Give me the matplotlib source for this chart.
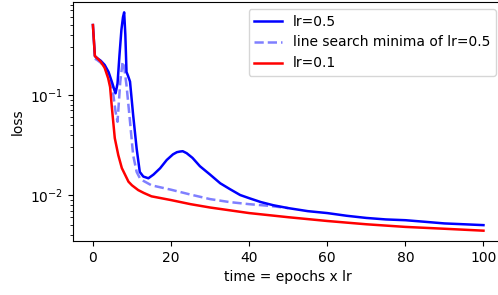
import matplotlib
matplotlib.use("Agg")
import matplotlib.pyplot as plt

# lr=0.5 curve
x_b = [0, 0.5, 1, 2, 3, 4, 5, 5.5, 5.8, 6.3, 6.8, 7.3, 7.7, 8.0, 8.3, 8.6, 9.0, 9.5, 10.3,
       11.2, 12.0, 12.9, 14.2, 15.5, 17.2, 18.9, 20.5, 21.5, 22.3, 23, 24, 25.5, 27.4, 30,
       32.6, 35, 37.7, 40, 43, 46.2, 50, 55, 60, 65, 70, 75, 80, 85, 90, 95, 100]
y_b = [0.5, 0.245, 0.235, 0.22, 0.2, 0.17, 0.13, 0.112, 0.104, 0.13, 0.25, 0.45, 0.6, 0.67,
       0.4, 0.17, 0.155, 0.136, 0.063, 0.029, 0.017, 0.0153, 0.0147, 0.016, 0.0185, 0.0224,
       0.0255, 0.0268, 0.0272, 0.0274, 0.0262, 0.0235, 0.0194, 0.016, 0.0131, 0.0115,
       0.0100, 0.0093, 0.0085, 0.0079, 0.0074, 0.0069, 0.0066, 0.0062, 0.0059, 0.0057,
       0.0056, 0.0054, 0.0052, 0.0051, 0.0050]

# line search minima of lr=0.5
x_d = [0.5, 1, 2, 3, 4, 5, 5.8, 6.3, 7.0, 7.6, 8.0, 8.6, 9.5, 10.3, 11.2, 12.0, 13, 15,
       20, 25, 30, 35, 40, 45, 50]
y_d = [0.23, 0.225, 0.21, 0.19, 0.16, 0.117, 0.068, 0.054, 0.135, 0.215, 0.19, 0.125,
       0.054, 0.025, 0.017, 0.0148, 0.0138, 0.0125, 0.0113, 0.0101, 0.0091, 0.0085, 0.0081,
       0.0078, 0.0074]

# lr=0.1 curve
x_r = [0, 0.5, 1, 2, 3, 3.9, 4.4, 4.8, 5.6, 6.5, 7.4, 9.1, 10, 11.6, 13, 15, 20, 25, 30, 40,
       50, 60, 70, 80, 90, 100]
y_r = [0.5, 0.245, 0.235, 0.215, 0.187, 0.147, 0.12, 0.079, 0.037, 0.025, 0.0186, 0.0136,
       0.0125, 0.0112, 0.0105, 0.0097, 0.0089, 0.0081, 0.0075, 0.0066, 0.0060, 0.0055,
       0.0051, 0.0048, 0.0046, 0.0044]

fig = plt.figure(figsize=(4.98, 2.95), dpi=100)
ax = fig.add_axes([73/498, 54/295, 430/498, 239/295])
ax.plot(x_b, y_b, color="blue", lw=1.8, label="lr=0.5")
ax.plot(x_d, y_d, color="blue", alpha=0.5, lw=1.8, linestyle="--",
        label="line search minima of lr=0.5")
ax.plot(x_r, y_r, color="red", lw=1.8, label="lr=0.1")
ax.set_yscale("log")
ax.set_xlim(-5.1, 105)
ax.set_ylim(0.00347, 0.85)
ax.set_xlabel("time = epochs x lr")
ax.set_ylabel("loss")
ax.legend(loc="upper right")
fig.savefig("out.png", dpi=100)
